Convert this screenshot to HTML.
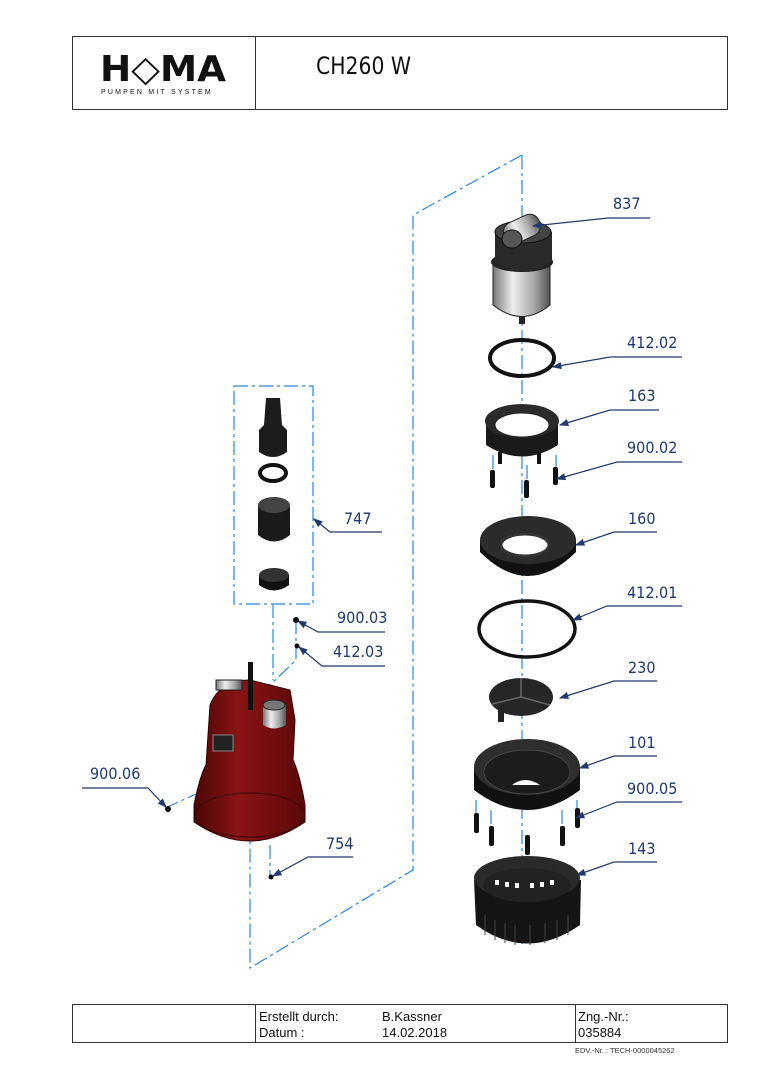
<!DOCTYPE html>
<html><head><meta charset="utf-8"><style>
html,body{margin:0;padding:0;background:#fff}
svg{display:block}
.lb{font-family:"DejaVu Sans Condensed","DejaVu Sans",sans-serif;font-size:16px;fill:#1f3a6e}
.ft{font-family:"Liberation Sans",sans-serif;font-size:13px;fill:#111}
</style></head><body>
<svg width="763" height="1080" viewBox="0 0 763 1080" xmlns="http://www.w3.org/2000/svg">
<defs>
<linearGradient id="met" x1="0" x2="1"><stop offset="0" stop-color="#777"/><stop offset="0.35" stop-color="#eee"/><stop offset="0.7" stop-color="#aaa"/><stop offset="1" stop-color="#555"/></linearGradient>
<linearGradient id="red" x1="0" x2="1"><stop offset="0" stop-color="#4a0606"/><stop offset="0.4" stop-color="#8a1414"/><stop offset="1" stop-color="#5a0808"/></linearGradient>
<marker id="ar" markerWidth="8" markerHeight="8" refX="7" refY="4" orient="auto"><path d="M0,1 L8,4 L0,7 z" fill="#1f3a6e"/></marker>
</defs>
<!-- header -->
<rect x="72.5" y="36.5" width="655" height="73" fill="none" stroke="#333" stroke-width="1"/>
<line x1="255.5" y1="36" x2="255.5" y2="110" stroke="#333"/>
<text x="100" y="81" font-family="DejaVu Sans,sans-serif" font-weight="bold" font-size="36" fill="#111" textLength="126" lengthAdjust="spacingAndGlyphs">H◇MA</text>
<text x="101" y="94" font-family="Liberation Sans,sans-serif" font-size="7" fill="#111" letter-spacing="2.2">PUMPEN MIT SYSTEM</text>
<text x="316" y="74" font-family="DejaVu Sans Condensed,DejaVu Sans,sans-serif" font-size="24" fill="#111" textLength="95" lengthAdjust="spacingAndGlyphs">CH260  W</text>
<!-- dashed axes -->
<g stroke="#2a85e0" stroke-width="1.2" fill="none" stroke-dasharray="14,4,3,4">
<path d="M522,155 L522,945"/>
<path d="M522,155 L413,215 L413,870 L250,968 L250,835"/>
<rect x="234" y="386" width="79" height="218"/>
<path d="M273,604 L273,680"/>
<path d="M296,620 L296,660 L265,690"/>
<path d="M270,845 L270,878"/>
<path d="M165,808 L205,790"/>
<path d="M493,455 L493,480 M556,455 L556,480 M527,465 L527,495 M476,800 L476,815 M577,800 L577,815 M491,810 L491,830 M562,810 L562,830"/>
</g>
<!-- 837 motor -->
<path d="M493,262 L493,305 Q522,328 550,305 L550,262 z" fill="url(#met)" stroke="#222"/>
<ellipse cx="522" cy="262" rx="31" ry="10" fill="#222"/>
<path d="M495,232 L495,262 Q522,280 552,262 L552,232 z" fill="#2a2a2a"/>
<ellipse cx="523" cy="232" rx="28" ry="11" fill="#444" stroke="#111"/>
<rect x="503" y="218" width="38" height="22" rx="10" fill="url(#met)" stroke="#222" transform="rotate(-25 522 229)"/>
<ellipse cx="512" cy="239" rx="10" ry="9" fill="#555" stroke="#111"/>
<rect x="519" y="316" width="6" height="8" fill="#222"/>
<!-- 412.02 -->
<ellipse cx="522" cy="358" rx="32" ry="18" fill="none" stroke="#111" stroke-width="4"/>
<!-- 163 -->
<path d="M486,422 L486,445 Q522,468 558,445 L558,422 z" fill="#1a1a1a"/>
<ellipse cx="522" cy="421" rx="37" ry="17" fill="#2a2a2a"/>
<ellipse cx="522" cy="425" rx="27" ry="12" fill="#fff" stroke="#222"/>
<g fill="#111"><rect x="490" y="470" width="5" height="18" rx="2"/><rect x="524" y="480" width="5" height="18" rx="2"/><rect x="553" y="467" width="5" height="18" rx="2"/><rect x="498" y="452" width="4" height="12"/><rect x="537" y="452" width="4" height="12"/></g>
<!-- 160 -->
<path d="M480,540 L480,552 Q528,600 576,552 L576,540 z" fill="#111"/>
<ellipse cx="528" cy="540" rx="48" ry="24" fill="#2b2b2b"/>
<ellipse cx="525" cy="545" rx="24" ry="11" fill="#fff" stroke="#333" stroke-width="3"/>
<!-- 412.01 -->
<ellipse cx="527" cy="629" rx="48" ry="28" fill="none" stroke="#111" stroke-width="3.5"/>
<!-- 230 -->
<ellipse cx="521" cy="697" rx="32" ry="19" fill="#262626"/>
<path d="M521,697 L521,678 M521,697 L492,704 M521,697 L550,705" stroke="#666" stroke-width="1.5"/>
<rect x="498" y="708" width="6" height="14" fill="#222"/>
<!-- 101 -->
<path d="M474,768 L474,790 Q527,830 580,790 L580,768 z" fill="#111"/>
<ellipse cx="527" cy="767" rx="53" ry="28" fill="#2e2e2e"/>
<ellipse cx="527" cy="772" rx="43" ry="22" fill="#1c1c1c" stroke="#444"/>
<path d="M512,785 Q525,775 540,785 z" fill="#fff"/>
<g fill="#111"><rect x="474" y="813" width="5" height="20" rx="2"/><rect x="489" y="826" width="5" height="20" rx="2"/><rect x="525" y="835" width="5" height="20" rx="2"/><rect x="560" y="826" width="5" height="20" rx="2"/><rect x="575" y="808" width="5" height="20" rx="2"/></g>
<!-- 143 -->
<path d="M474,880 L476,925 Q527,962 580,925 L581,880 z" fill="#151515"/>
<ellipse cx="527" cy="878" rx="53" ry="22" fill="#2a2a2a"/>
<ellipse cx="527" cy="885" rx="44" ry="17" fill="#222"/>
<g fill="#fff"><rect x="495" y="880" width="4" height="5"/><rect x="505" y="882" width="4" height="5"/><rect x="515" y="883" width="4" height="5"/><rect x="530" y="883" width="4" height="5"/><rect x="540" y="882" width="4" height="5"/><rect x="550" y="880" width="4" height="5"/></g>
<g stroke="#444" stroke-width="1"><path d="M485,915 v20 M495,920 v20 M505,923 v20 M515,925 v20 M530,925 v20 M545,923 v20 M557,920 v20 M568,915 v20"/></g>
<!-- 747 group -->
<path d="M266,398 L280,398 L282,425 L287,430 L287,452 Q273,462 259,452 L259,430 L264,425 z" fill="#1c1c1c"/>
<ellipse cx="273" cy="473" rx="13" ry="8" fill="none" stroke="#111" stroke-width="4"/>
<path d="M258,505 L258,535 Q274,548 290,535 L290,505 z" fill="#1a1a1a"/>
<ellipse cx="274" cy="505" rx="16" ry="8" fill="#444"/>
<path d="M259,575 L259,585 Q274,596 289,585 L289,575 z" fill="#111"/>
<ellipse cx="274" cy="575" rx="15" ry="7" fill="#333"/>
<circle cx="296" cy="620" r="3" fill="#111"/><circle cx="297" cy="646" r="2.5" fill="#111"/>
<!-- pump -->
<path d="M194,805 Q200,775 206,765 L210,705 Q220,680 250,680 L290,690 L295,720 L293,760 Q300,775 305,805 L305,822 Q250,860 194,822 z" fill="url(#red)" stroke="#300" stroke-width="1"/>
<ellipse cx="250" cy="815" rx="55" ry="22" fill="none" stroke="#300"/>
<rect x="216" y="680" width="26" height="10" fill="url(#met)" stroke="#222"/>
<rect x="248" y="662" width="5" height="48" fill="#111"/>
<path d="M263,705 L263,725 Q274,732 286,725 L286,705 z" fill="url(#met)"/>
<ellipse cx="274" cy="705" rx="11" ry="5" fill="#777" stroke="#222"/>
<rect x="213" y="735" width="20" height="16" fill="#222" stroke="#888"/>
<circle cx="168" cy="809" r="3" fill="#111"/><circle cx="271" cy="877" r="2.5" fill="#111"/>
<!-- leaders -->
<g stroke="#1f3a6e" stroke-width="1.2" fill="none" marker-end="url(#ar)">
<path d="M650,218 L608,218 L533,226"/>
<path d="M682,357 L610,357 L553,367"/>
<path d="M659,410 L610,410 L560,425"/>
<path d="M682,462 L617,462 L557,479"/>
<path d="M657,532 L614,532 L576,545"/>
<path d="M682,606 L607,606 L573,620"/>
<path d="M657,681 L614,681 L560,698"/>
<path d="M657,756 L614,756 L580,768"/>
<path d="M682,802 L617,802 L576,818"/>
<path d="M657,862 L614,862 L577,875"/>
<path d="M382,532 L330,532 L314,519"/>
<path d="M385,632 L318,632 L298,621"/>
<path d="M385,666 L322,666 L299,647"/>
<path d="M82,788 L148,788 L166,807"/>
<path d="M353,857 L308,857 L273,876"/>
</g>
<g class="lb">
<text x="613" y="209">837</text><text x="627" y="348">412.02</text><text x="628" y="401">163</text><text x="627" y="453">900.02</text>
<text x="628" y="524">160</text><text x="627" y="598">412.01</text><text x="628" y="673">230</text><text x="628" y="748">101</text>
<text x="627" y="794">900.05</text><text x="628" y="854">143</text><text x="344" y="524">747</text><text x="337" y="623">900.03</text>
<text x="333" y="657">412.03</text><text x="90" y="779">900.06</text><text x="326" y="849">754</text>
</g>
<!-- footer -->
<rect x="72.5" y="1004.5" width="655" height="38" fill="none" stroke="#333"/>
<line x1="255.5" y1="1004" x2="255.5" y2="1043" stroke="#333"/>
<line x1="575.5" y1="1004" x2="575.5" y2="1043" stroke="#333"/>
<text class="ft" x="259" y="1021">Erstellt durch:</text><text class="ft" x="382" y="1021">B.Kassner</text>
<text class="ft" x="259" y="1037">Datum :</text><text class="ft" x="382" y="1037">14.02.2018</text>
<text class="ft" x="578" y="1021">Zng.-Nr.:</text><text class="ft" x="578" y="1037">035884</text>
<text x="575" y="1053" font-family="Liberation Sans,sans-serif" font-size="7.5" fill="#333">EDV.-Nr. :    TECH-0000045262</text>
</svg>
</body></html>
